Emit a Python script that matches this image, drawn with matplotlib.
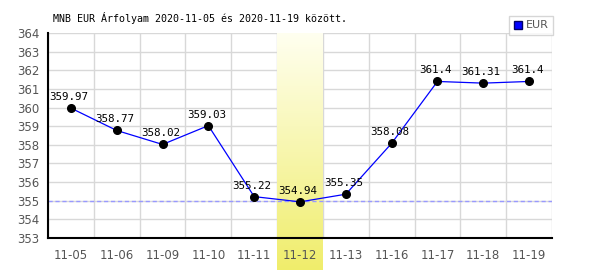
import matplotlib
matplotlib.use("Agg")
import matplotlib.pyplot as plt
import numpy as np
from matplotlib.lines import Line2D

dates = ["11-05", "11-06", "11-09", "11-10", "11-11", "11-12",
         "11-13", "11-16", "11-17", "11-18", "11-19"]
rates = [359.97, 358.77, 358.02, 359.03, 355.22, 354.94,
         355.35, 358.08, 361.4, 361.31, 361.4]
labels = ["359.97", "358.77", "358.02", "359.03", "355.22", "354.94",
          "355.35", "358.08", "361.4", "361.31", "361.4"]
highlight = "11-12"
ref_level = 355
y_ticks = list(range(353, 365))

mono = "DejaVu Sans Mono"

fig = plt.figure(figsize=(6, 2.7), dpi=100)
ax = fig.add_axes([48 / 600, 32 / 270, 504 / 600, 205 / 270])

x = np.arange(len(dates))
n = len(dates)

# grid drawn by hand so the highlight band can sit over it
for yv in y_ticks:
    ax.axhline(yv, color="#d8d8d8", lw=1, zorder=1)
for xv in np.arange(-0.5, n, 1):
    ax.axvline(xv, color="#d8d8d8", lw=1, zorder=1)

# highlighted day: vertical gradient band running below the axis
hi = dates.index(highlight)
y_bottom = 353 - 32 / 205 * 11
grad = np.linspace(0, 1, 256).reshape(-1, 1, 1)
top_c = np.array([1.0, 1.0, 0.94])
bot_c = np.array([0.94, 0.93, 0.42])
img = top_c + (bot_c - top_c) * grad
ax.imshow(img, extent=[hi - 0.5, hi + 0.5, y_bottom, 364], aspect="auto",
          origin="upper", zorder=1.5, clip_on=False)
ax.set_xlim(-0.5, n - 0.5)
ax.set_ylim(353, 364)

ax.set_xticks(x)
ax.set_xticklabels(dates)
ax.set_yticks(y_ticks)
ax.tick_params(which="both", length=0)
ax.tick_params(axis="y", pad=6, labelsize=8.5, labelcolor="#555555")
ax.tick_params(axis="x", pad=8, labelsize=8.5, labelcolor="#555555")
for s in ["top", "right"]:
    ax.spines[s].set_visible(False)
for s in ["left", "bottom"]:
    ax.spines[s].set_color("black")
    ax.spines[s].set_linewidth(1.5)

ax.axhline(ref_level, color="#9999ff", lw=1, ls=(0, (3, 2)), zorder=2)
ax.plot(x, rates, color="#0000ff", lw=0.9, zorder=3)
ax.plot(x, rates, "o", color="black", ms=5.5, zorder=4)
for xi, yi, lab in zip(x, rates, labels):
    ax.annotate(lab, (xi, yi), xytext=(-1.5, 8), textcoords="offset points",
                ha="center", va="center", fontsize=7.8, family=mono,
                color="black", zorder=5)

fig.text(53 / 600, 1 - 18 / 270, "MNB EUR Árfolyam 2020-11-05 és 2020-11-19 között.",
         family=mono, fontsize=7.2, va="center", ha="left")

handle = Line2D([], [], marker="s", color="#0000ff", markeredgecolor="#000066",
                ls="none", ms=6)
leg = fig.legend([handle], ["EUR"], loc="upper right",
                 bbox_to_anchor=(553 / 600, 1 - 16 / 270), borderaxespad=0,
                 fancybox=False, edgecolor="#cccccc", fontsize=8,
                 handlelength=0.8, handletextpad=0.3, borderpad=0.4,
                 labelcolor="#555555")
leg.get_frame().set_linewidth(1)

fig.savefig("out.png", dpi=100)
